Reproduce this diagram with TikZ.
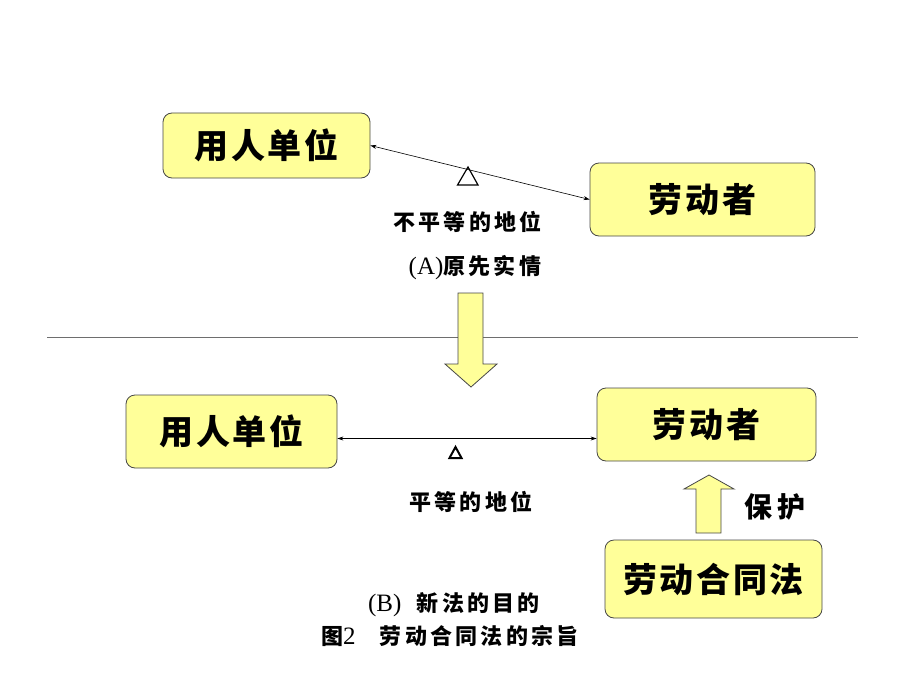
\documentclass[tikz,border=0pt]{standalone}
\usepackage{fontspec}
\setmainfont{Liberation Serif}
\newfontfamily\cjk[LetterSpace=15]{Noto Sans CJK SC}
\newfontfamily\cjkbox[LetterSpace=8]{Noto Sans CJK SC}
\usetikzlibrary{arrows.meta}
\newlength{\boxradius}
\newlength{\boxline}
\setlength{\boxradius}{9pt}
\setlength{\boxline}{0.8pt}
\definecolor{boxfillcolor}{RGB}{255,255,153}
\definecolor{boxlinecolor}{RGB}{70,70,70}
\definecolor{rulecolor}{RGB}{110,110,110}
\newcommand{\latin}[1]{{\rmfamily\mdseries\fontsize{25pt}{25pt}\selectfont #1}}
\tikzstyle{every node} = [inner sep=0]
\tikzstyle{partybox} = [draw=boxlinecolor, fill=boxfillcolor, line width=\boxline, rounded corners=\boxradius, font=\cjkbox\bfseries\fontsize{34pt}{34pt}\selectfont]
\tikzstyle{caption} = [font=\cjk\bfseries\fontsize{22pt}{22pt}\selectfont]
\tikzstyle{bigarrow} = [draw=boxlinecolor, fill=boxfillcolor, line width=\boxline]
\tikzstyle{relation} = [draw, line width=0.6pt, {Stealth[length=6pt,width=4pt]}-{Stealth[length=6pt,width=4pt]}]
\tikzstyle{fulcrum} = [draw, line width=1.2pt, line join=miter]

\begin{document}
\begin{tikzpicture}[x=1pt, y=-1pt]
	\useasboundingbox (0,0) rectangle (920,690);
	
	% (A) before
	\node[partybox, minimum width=207pt, minimum height=65pt] (employerA) at (266.5,145.5) {用人单位};
	\node[partybox, minimum width=225pt, minimum height=73pt] (workerA) at (702.5,199.5) {劳动者};
	\draw[relation] (employerA.east) -- (workerA.west);
	\draw[fulcrum] (468,167) -- (478,185) -- (457.5,185) -- cycle;
	\node[caption] (unequal) at (467.5,222) {不平等的地位};
	\node[caption] (titleA) at (475,268) {\latin{(A)}原先实情};
	
	% separator and change arrow
	\draw[rulecolor, line width=0.8pt] (47,337) -- (858,337);
	\draw[bigarrow] (458,293) -- (483,293) -- (483,364) -- (497,364) -- (471,387) -- (445,364) -- (458,364) -- cycle;
	
	% (B) new law
	\node[partybox, minimum width=211pt, minimum height=73pt] (employerB) at (231.5,431.5) {用人单位};
	\node[partybox, minimum width=219pt, minimum height=73pt] (workerB) at (706.5,424.5) {劳动者};
	\coordinate (level) at (470,438.5);
	\draw[relation] (employerB.east |- level) -- (workerB.west |- level);
	\draw[fulcrum, line width=2pt] (455.5,447) -- (461.5,458) -- (449.5,458) -- cycle;
	\node[caption] (equal) at (471,502) {平等的地位};
	
	\node[partybox, minimum width=217pt, minimum height=78pt] (law) at (713.5,579) {劳动合同法};
	\draw[bigarrow] (696,533) -- (696,489) -- (684,489) -- (709,475) -- (734,489) -- (721,489) -- (721,533) -- cycle;
	\node[caption, font=\cjk\bfseries\fontsize{28pt}{28pt}\selectfont] (protect) at (775,507) {保护};
	
	\node[caption] (titleB) at (454,605) {\latin{(B)}\hspace{0.7em}新法的目的};
	\node[caption] (figure) at (450,636) {图\latin{2}\hspace{1.1em}劳动合同法的宗旨};
	
\end{tikzpicture}
\end{document}
